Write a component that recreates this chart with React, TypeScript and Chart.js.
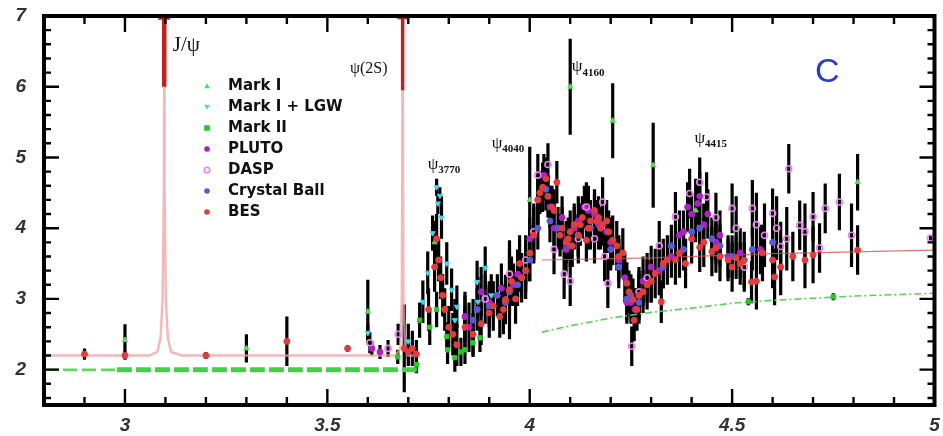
import React, { useEffect, useRef } from 'react';
import { Chart, registerables } from 'chart.js';
Chart.register(...registerables);

// ---------------- data ----------------
// Mark I
const MK1_X = [3.0, 3.3, 3.6, 3.765, 4.0, 4.1, 4.205, 4.305, 4.41, 4.81];
const MK1_Y = [2.42, 2.3, 2.82, 3.8, 4.4, 6.0, 5.52, 4.89, 4.25, 4.65];
const MK1_E = [0.22, 0.2, 0.45, 0.3, 0.75, 0.68, 0.53, 0.6, 0.45, 0.4];

// Mark I + LGW
const LGW_X = [3.6, 3.7, 3.736, 3.748, 3.76, 3.77, 3.773, 3.778, 3.782, 3.807, 3.815, 3.82, 3.87, 3.872, 3.89, 3.905, 3.795, 3.84];
const LGW_Y = [2.52, 2.4, 2.96, 3.37, 3.93, 4.58, 4.35, 4.46, 4.15, 3.13, 2.7, 2.89, 3.24, 2.96, 3.44, 3.05, 3.5, 2.75];
const LGW_E = [0.12, 0.25, 0.3, 0.3, 0.25, 0.12, 0.15, 0.12, 0.3, 0.3, 0.3, 0.3, 0.3, 0.35, 0.3, 0.3, 0.3, 0.3];

// Mark II
const MK2_X = [3.674, 3.72, 3.728, 3.753, 3.77, 3.795, 3.797, 3.815, 3.83, 3.84, 3.86, 3.877, 4.54, 4.75];
const MK2_Y = [2.18, 2.07, 2.7, 2.6, 2.85, 2.47, 2.28, 2.17, 2.25, 2.28, 2.38, 2.45, 2.96, 3.03];
const MK2_E = [0.1, 0.12, 0.25, 0.25, 0.25, 0.2, 0.2, 0.2, 0.2, 0.2, 0.2, 0.2, 0.05, 0.05];

// PLUTO
const PLU_X = [3.61, 3.63, 3.9, 3.96, 4.0, 4.035, 4.05, 4.08, 4.11, 4.135, 4.16, 4.19, 4.22, 4.25, 4.27, 4.3, 4.35, 4.38, 4.4, 4.415, 4.43, 4.46, 4.49,
  3.84, 3.85, 3.88, 3.93, 3.97, 4.02, 4.06, 4.09, 4.12, 4.145, 4.17, 4.2, 4.235, 4.24, 4.26, 4.28, 4.32, 4.37, 4.39, 4.42, 4.44, 4.47, 4.52, 4.57];
const PLU_Y = [2.3, 2.25, 2.95, 3.2, 3.85, 4.75, 4.3, 4.15, 4.0, 4.3, 4.2, 3.95, 3.55, 2.95, 3.05, 3.45, 3.6, 3.95, 4.2, 4.35, 4.05, 3.8, 3.6,
  2.75, 2.6, 3.1, 3.15, 3.35, 4.4, 4.0, 3.7, 4.1, 4.25, 4.05, 3.8, 3.3, 2.95, 2.85, 3.25, 3.4, 3.9, 4.3, 4.45, 4.2, 3.9, 3.65, 3.7];
const PLU_E = [0.1, 0.1, 0.3, 0.3, 0.3, 0.3, 0.3, 0.3, 0.3, 0.3, 0.3, 0.3, 0.3, 0.3, 0.3, 0.3, 0.3, 0.3, 0.3, 0.3, 0.3, 0.3, 0.3,
  0.35, 0.35, 0.35, 0.35, 0.35, 0.35, 0.35, 0.35, 0.35, 0.35, 0.35, 0.35, 0.35, 0.3, 0.3, 0.35, 0.35, 0.35, 0.35, 0.35, 0.35, 0.35, 0.35, 0.35];

// DASP
const DAS_X = [3.605, 3.65, 3.675, 3.99, 4.02, 4.045, 4.06, 4.085, 4.1, 4.12, 4.14, 4.16, 4.18, 4.185, 4.193, 4.252, 4.27, 4.29, 4.32, 4.36, 4.395, 4.42, 4.437, 4.46, 4.5, 4.53, 4.55, 4.6, 4.62, 4.64, 4.667, 4.7, 4.716, 4.73, 4.765, 4.795, 4.99,
  4.51, 4.56, 4.58, 4.61, 4.635, 4.68, 3.89, 3.95, 4.01];
const DAS_Y = [2.38, 2.3, 2.5, 3.55, 4.75, 4.9, 3.7, 3.35, 3.25, 3.85, 4.3, 3.85, 4.37, 3.6, 3.22, 2.33, 3.1, 3.3, 3.75, 4.16, 4.49, 4.65, 4.44, 4.15, 4.28, 3.45, 4.28, 4.21, 3.74, 4.84, 4.04, 4.16, 3.72, 4.28, 4.37, 3.9, 3.86,
  4.0, 4.05, 3.9, 4.0, 3.85, 3.95, 3.0, 3.35, 3.95];
const DAS_E = [0.15, 0.12, 0.15, 0.35, 0.3, 0.3, 0.35, 0.35, 0.35, 0.35, 0.35, 0.35, 0.35, 0.35, 0.35, 0.28, 0.35, 0.35, 0.35, 0.35, 0.35, 0.35, 0.35, 0.35, 0.35, 0.35, 0.4, 0.35, 0.35, 0.35, 0.35, 0.35, 0.35, 0.35, 0.4, 0.45, 0.04,
  0.45, 0.45, 0.45, 0.45, 0.45, 0.4, 0.35, 0.35, 0.4];

// Crystal Ball
const CB_X = [3.87, 3.9, 3.95, 3.98, 4.0, 4.05, 4.1, 4.15, 4.2, 4.25, 4.3, 4.35, 4.4, 4.45, 4.5, 4.55, 4.6,
  3.86, 3.92, 3.94, 3.97, 3.99, 4.02, 4.04, 4.07, 4.12, 4.17, 4.22, 4.24, 4.27, 4.33, 4.38, 4.42, 4.47];
const CB_Y = [2.85, 2.9, 3.1, 3.3, 3.55, 4.1, 3.75, 4.0, 3.7, 3.05, 3.25, 3.75, 3.95, 3.85, 3.6, 3.7, 3.8,
  2.7, 3.05, 2.95, 3.2, 3.4, 4.0, 4.55, 4.0, 3.9, 4.1, 3.45, 3.0, 2.95, 3.45, 3.7, 4.0, 3.75];
const CB_E = [0.3, 0.3, 0.3, 0.3, 0.3, 0.3, 0.3, 0.3, 0.3, 0.3, 0.3, 0.3, 0.3, 0.3, 0.3, 0.3, 0.3,
  0.3, 0.3, 0.3, 0.3, 0.3, 0.3, 0.3, 0.3, 0.3, 0.3, 0.3, 0.3, 0.3, 0.3, 0.3, 0.3, 0.3];

// BES
const BES_X = [2.9, 3.0, 3.2, 3.4, 3.55, 3.69, 3.7, 3.71, 3.72, 3.75, 3.765, 3.77, 3.775, 3.78, 3.785, 3.79, 3.8, 3.81, 3.82, 3.88, 3.9, 3.926, 3.94, 3.95, 3.965, 3.975, 3.99, 4.0, 4.01, 4.02, 4.032, 4.045, 4.055, 4.067, 4.08, 4.09, 4.1, 4.11, 4.12, 4.13, 4.14, 4.15, 4.16, 4.17, 4.18, 4.19, 4.205, 4.215, 4.23, 4.24, 4.255, 4.258, 4.27, 4.29, 4.31, 4.325, 4.33, 4.36, 4.385, 4.42, 4.45, 4.46, 4.49, 4.51, 4.52, 4.548, 4.575, 4.605, 4.65, 4.7, 4.81,
  3.84, 3.86, 3.91, 3.935, 3.955, 3.98, 4.025, 4.04, 4.06, 4.075, 4.095, 4.105, 4.125, 4.145, 4.165, 4.175, 4.195, 4.22, 4.245, 4.265, 4.28, 4.3, 4.34, 4.37, 4.4, 4.43, 4.47, 4.5, 4.53, 4.56, 4.6, 4.62, 4.68];
const BES_Y = [2.22, 2.2, 2.2, 2.4, 2.3, 2.3, 2.25, 2.3, 2.22, 2.85, 3.45, 3.85, 3.55, 3.3, 3.05, 2.85, 2.6, 2.5, 2.35, 2.65, 2.8, 2.75, 2.99, 3.13, 3.0, 3.5, 3.4, 3.65, 3.9, 4.4, 4.58, 4.45, 4.3, 4.65, 4.0, 3.8, 3.95, 4.05, 3.9, 4.15, 3.83, 4.1, 4.25, 4.15, 4.05, 4.1, 3.83, 3.75, 3.65, 3.22, 2.99, 2.7, 3.05, 3.2, 3.36, 2.96, 3.5, 3.55, 3.5, 3.73, 3.67, 3.72, 3.55, 3.58, 3.5, 3.24, 3.65, 3.31, 3.6, 3.62, 3.69,
  2.6, 2.5, 2.9, 2.85, 3.25, 3.3, 4.5, 4.7, 4.25, 3.9, 3.85, 3.75, 4.05, 4.0, 4.1, 4.0, 3.95, 3.6, 3.1, 2.85, 3.1, 3.25, 3.55, 3.65, 3.85, 3.8, 3.6, 3.45, 3.55, 3.25, 3.55, 3.45, 3.55];
const BES_E = [0.08, 0.06, 0.05, 0.35, 0.05, 0.62, 0.2, 0.25, 0.2, 0.3, 0.35, 0.35, 0.3, 0.3, 0.3, 0.3, 0.3, 0.3, 0.3, 0.3, 0.35, 0.3, 0.35, 0.7, 0.35, 0.4, 0.4, 0.4, 0.4, 0.35, 0.35, 0.3, 0.3, 0.3, 0.3, 0.3, 0.3, 0.3, 0.3, 0.3, 0.3, 0.3, 0.3, 0.3, 0.3, 0.3, 0.35, 0.35, 0.35, 0.3, 0.3, 0.3, 0.35, 0.35, 0.35, 0.3, 0.35, 0.35, 0.35, 0.35, 0.35, 0.35, 0.3, 0.3, 0.3, 0.3, 0.4, 0.4, 0.35, 0.4, 0.35,
  0.3, 0.3, 0.35, 0.35, 0.35, 0.35, 0.3, 0.3, 0.3, 0.3, 0.3, 0.3, 0.3, 0.3, 0.3, 0.3, 0.3, 0.3, 0.3, 0.3, 0.3, 0.3, 0.35, 0.35, 0.35, 0.35, 0.35, 0.35, 0.4, 0.4, 0.4, 0.4, 0.4];

// resonance curve (pink) with J/psi and psi(2S) spikes
const PINK_X = [2.8, 3.06, 3.08, 3.088, 3.093, 3.096, 3.097, 3.098, 3.101, 3.106, 3.114, 3.14, 3.67, 3.68, 3.684, 3.686, 3.688, 3.692, 3.7, 3.72];
const PINK_Y = [2.2, 2.2, 2.25, 2.45, 3.0, 4.5, 7.0, 4.5, 3.0, 2.45, 2.25, 2.2, 2.2, 2.3, 3.0, 7.0, 3.0, 2.3, 2.2, 2.2];
const JPSI_X = [3.097, 3.097];
const JPSI_Y = [6.0, 7.0];
const PSI2S_X = [3.686, 3.686];
const PSI2S_Y = [5.95, 7.0];

// pQCD red line above open charm threshold
const RED_X = [4.03, 4.3, 4.6, 5.0];
const RED_Y = [3.55, 3.58, 3.64, 3.69];

// green dashed curves
const GTHIN_X = [2.8, 2.98];
const GTHIN_Y = [2.0, 2.0];
const GTHICK_X = [2.98, 3.73];
const GTHICK_Y = [2.0, 2.0];
const GHIGH_X = [4.03, 4.1, 4.2, 4.3, 4.4, 4.5, 4.6, 4.7, 4.8, 4.9, 5.0];
const GHIGH_Y = [2.53, 2.62, 2.73, 2.81, 2.87, 2.94, 2.98, 3.01, 3.04, 3.06, 3.08];

// axis
const X_MIN = 2.8, X_MAX = 5.0, Y_MIN = 1.5, Y_MAX = 7.0;

// labels placed at data coordinates
const ANNOT = [
  { main: 'J/ψ', sub: '', x: 3.118, y: 6.58, size: 21 },
  { main: 'ψ(2S)', sub: '', x: 3.556, y: 6.25, size: 16 },
  { main: 'ψ', sub: '3770', x: 3.748, y: 4.9, size: 17 },
  { main: 'ψ', sub: '4040', x: 3.906, y: 5.2, size: 17 },
  { main: 'ψ', sub: '4160', x: 4.104, y: 6.28, size: 17 },
  { main: 'ψ', sub: '4415', x: 4.407, y: 5.27, size: 17 },
];

const zip = (xs: number[], ys: number[]) => xs.map((x, i) => ({ x, y: ys[i] }));

const SERIES = [
  { label: 'Mark I', xs: MK1_X, ys: MK1_Y, es: MK1_E, color: '#4fe04f', style: 'triangle', rot: 0, fill: true },
  { label: 'Mark I + LGW', xs: LGW_X, ys: LGW_Y, es: LGW_E, color: '#3fd8ee', style: 'triangle', rot: 180, fill: true },
  { label: 'Mark II', xs: MK2_X, ys: MK2_Y, es: MK2_E, color: '#22cc22', style: 'rect', rot: 0, fill: true },
  { label: 'PLUTO', xs: PLU_X, ys: PLU_Y, es: PLU_E, color: '#b020c8', style: 'circle', rot: 0, fill: true },
  { label: 'DASP', xs: DAS_X, ys: DAS_Y, es: DAS_E, color: '#ee80f0', style: 'circle', rot: 0, fill: false },
  { label: 'Crystal Ball', xs: CB_X, ys: CB_Y, es: CB_E, color: '#5a5ad8', style: 'circle', rot: 0, fill: true },
  { label: 'BES', xs: BES_X, ys: BES_Y, es: BES_E, color: '#e83a3a', style: 'circle', rot: 0, fill: true },
];

const errorBars = {
  id: 'errorBars',
  beforeDatasetsDraw(chart: any) {
    const { ctx, chartArea: a, scales } = chart;
    const xs = scales.x, ys = scales.y;
    ctx.save();
    ctx.beginPath();
    ctx.rect(a.left, a.top, a.right - a.left, a.bottom - a.top);
    ctx.clip();
    ctx.strokeStyle = '#000';
    ctx.lineWidth = 3.2;
    chart.data.datasets.forEach((ds: any) => {
      if (!ds.errs) return;
      ds.data.forEach((p: any, j: number) => {
        const e = ds.errs[j];
        const px = xs.getPixelForValue(p.x);
        ctx.beginPath();
        ctx.moveTo(px, ys.getPixelForValue(p.y - e));
        ctx.lineTo(px, ys.getPixelForValue(p.y + e));
        ctx.stroke();
      });
    });
    ctx.restore();
  },
};

const frameTicks = {
  id: 'frameTicks',
  afterDraw(chart: any) {
    const { ctx, chartArea: a, scales } = chart;
    const xs = scales.x, ys = scales.y;
    ctx.save();
    ctx.strokeStyle = '#000';
    ctx.lineWidth = 2.4;
    ctx.beginPath();
    for (let k = 29; k < 50; k++) {
      const px = xs.getPixelForValue(k / 10);
      const len = k % 5 === 0 ? 16 : 8;
      ctx.moveTo(px, a.bottom); ctx.lineTo(px, a.bottom - len);
      ctx.moveTo(px, a.top); ctx.lineTo(px, a.top + len);
    }
    for (let k = 8; k < 35; k++) {
      const py = ys.getPixelForValue(k / 5);
      const len = k % 5 === 0 ? 15 : 7;
      ctx.moveTo(a.left, py); ctx.lineTo(a.left + len, py);
      ctx.moveTo(a.right, py); ctx.lineTo(a.right - len, py);
    }
    ctx.stroke();
    ctx.lineWidth = 4;
    ctx.beginPath();
    ctx.moveTo(a.left, a.top);
    ctx.lineTo(a.right, a.top);
    ctx.lineTo(a.right, a.bottom);
    ctx.lineTo(a.left, a.bottom);
    ctx.closePath();
    ctx.stroke();
    ctx.restore();
  },
};

function drawMarker(ctx: CanvasRenderingContext2D, s: any, x: number, y: number, r: number) {
  ctx.fillStyle = s.color;
  ctx.strokeStyle = s.color;
  ctx.lineWidth = 1.5;
  ctx.beginPath();
  if (s.style === 'triangle') {
    const d = s.rot ? -1 : 1;
    ctx.moveTo(x, y - d * r);
    ctx.lineTo(x + r, y + d * r * 0.8);
    ctx.lineTo(x - r, y + d * r * 0.8);
    ctx.closePath();
  } else if (s.style === 'rect') {
    ctx.rect(x - r, y - r, 2 * r, 2 * r);
  } else {
    ctx.arc(x, y, r, 0, Math.PI * 2);
  }
  if (s.fill) ctx.fill(); else ctx.stroke();
}

const overlay = {
  id: 'overlay',
  afterDraw(chart: any) {
    const { ctx, scales } = chart;
    const xs = scales.x, ys = scales.y;
    ctx.save();
    // legend
    ctx.textBaseline = 'middle';
    ctx.textAlign = 'left';
    SERIES.forEach((s, i) => {
      const yy = 86 + i * 21;
      drawMarker(ctx, s, 207, yy, 2.8);
      ctx.fillStyle = '#111';
      ctx.font = 'bold 15px "DejaVu Sans", sans-serif';
      ctx.fillText(s.label, 228, yy);
    });
    // resonance labels
    ctx.fillStyle = '#111';
    ANNOT.forEach((an) => {
      const px = xs.getPixelForValue(an.x);
      const py = ys.getPixelForValue(an.y);
      ctx.font = `${an.size}px "Liberation Serif", "DejaVu Serif", serif`;
      ctx.fillText(an.main, px, py);
      if (an.sub) {
        const w = ctx.measureText(an.main).width;
        ctx.font = `bold 11px "Liberation Serif", "DejaVu Serif", serif`;
        ctx.fillText(an.sub, px + w, py + 6);
      }
    });
    // panel letter
    ctx.fillStyle = '#2a38d0';
    ctx.font = '34px "Liberation Sans", Arial, sans-serif';
    ctx.textAlign = 'center';
    ctx.fillText('C', xs.getPixelForValue(4.735), ys.getPixelForValue(6.2));
    ctx.restore();
  },
};

export default function App() {
  const ref = useRef<HTMLCanvasElement | null>(null);
  useEffect(() => {
    if (!ref.current) return;
    const lineDs = (data: any, color: string, width: number, dash: number[], order: number, extra: any = {}) => ({
      data, borderColor: color, backgroundColor: color, borderWidth: width, borderDash: dash,
      showLine: true, pointRadius: 0, fill: false, tension: 0, order, ...extra,
    });
    const pointDs = SERIES.map((s, i) => ({
      label: s.label,
      data: zip(s.xs, s.ys),
      errs: s.es,
      showLine: false,
      pointStyle: s.style,
      rotation: s.rot,
      pointRadius: 3,
      pointBorderWidth: s.fill ? 1 : 1.6,
      backgroundColor: s.fill ? s.color : 'rgba(255,255,255,0)',
      borderColor: s.color,
      order: 7 - i,
    }));
    const chart = new Chart(ref.current, {
      type: 'scatter',
      data: {
        datasets: [
          ...pointDs,
          lineDs(zip(PINK_X, PINK_Y), 'rgba(240,160,160,0.75)', 2.4, [], 20),
          lineDs(zip(JPSI_X, JPSI_Y), '#c42020', 4.5, [], 19, { pointRadius: [0, 3], pointStyle: 'triangle' }),
          lineDs(zip(PSI2S_X, PSI2S_Y), '#c42020', 3.5, [], 19, { pointRadius: [0, 3], pointStyle: 'triangle' }),
          lineDs(zip(RED_X, RED_Y), 'rgba(220,80,80,0.8)', 1.2, [], 20),
          lineDs(zip(GTHIN_X, GTHIN_Y), '#55dd55', 2.5, [14, 5], 20),
          lineDs(zip(GTHICK_X, GTHICK_Y), '#44d044', 5, [15, 4], 20),
          lineDs(zip(GHIGH_X, GHIGH_Y), '#55d455', 1.6, [7, 3, 2, 3], 20),
        ] as any,
      },
      options: {
        animation: false,
        responsive: true,
        maintainAspectRatio: false,
        layout: { padding: { top: 16, right: 4, left: 0, bottom: 0 } },
        plugins: { legend: { display: false }, tooltip: { enabled: false } },
        scales: {
          x: {
            type: 'linear', min: X_MIN, max: X_MAX,
            afterFit: (s: any) => { s.height = 31; s.paddingLeft = 0; s.paddingRight = 0; },
            grid: { display: false, drawTicks: false },
            border: { display: false },
            ticks: {
              stepSize: 0.5, includeBounds: false, autoSkip: false, maxRotation: 0, padding: 9,
              color: '#333', font: { family: '"Liberation Sans", Arial, sans-serif', size: 19, style: 'italic', weight: 'bold' },
              callback: (v: any) => String(Number(Number(v).toFixed(1))),
            },
          },
          y: {
            type: 'linear', min: Y_MIN, max: Y_MAX,
            afterFit: (s: any) => { s.width = 44; s.paddingTop = 0; s.paddingBottom = 0; },
            grid: { display: false, drawTicks: false },
            border: { display: false },
            ticks: {
              stepSize: 1, includeBounds: false, padding: 18,
              color: '#333', font: { family: '"Liberation Sans", Arial, sans-serif', size: 19, style: 'italic', weight: 'bold' },
              callback: (v: any) => String(Math.round(Number(v))),
            },
          },
        },
      } as any,
      plugins: [errorBars, overlay, frameTicks],
    });
    return () => chart.destroy();
  }, []);
  return (
    <div style={{ position: 'fixed', left: 0, top: 0, width: 943, height: 436, background: '#fff' }}>
      <canvas ref={ref} />
    </div>
  );
}
